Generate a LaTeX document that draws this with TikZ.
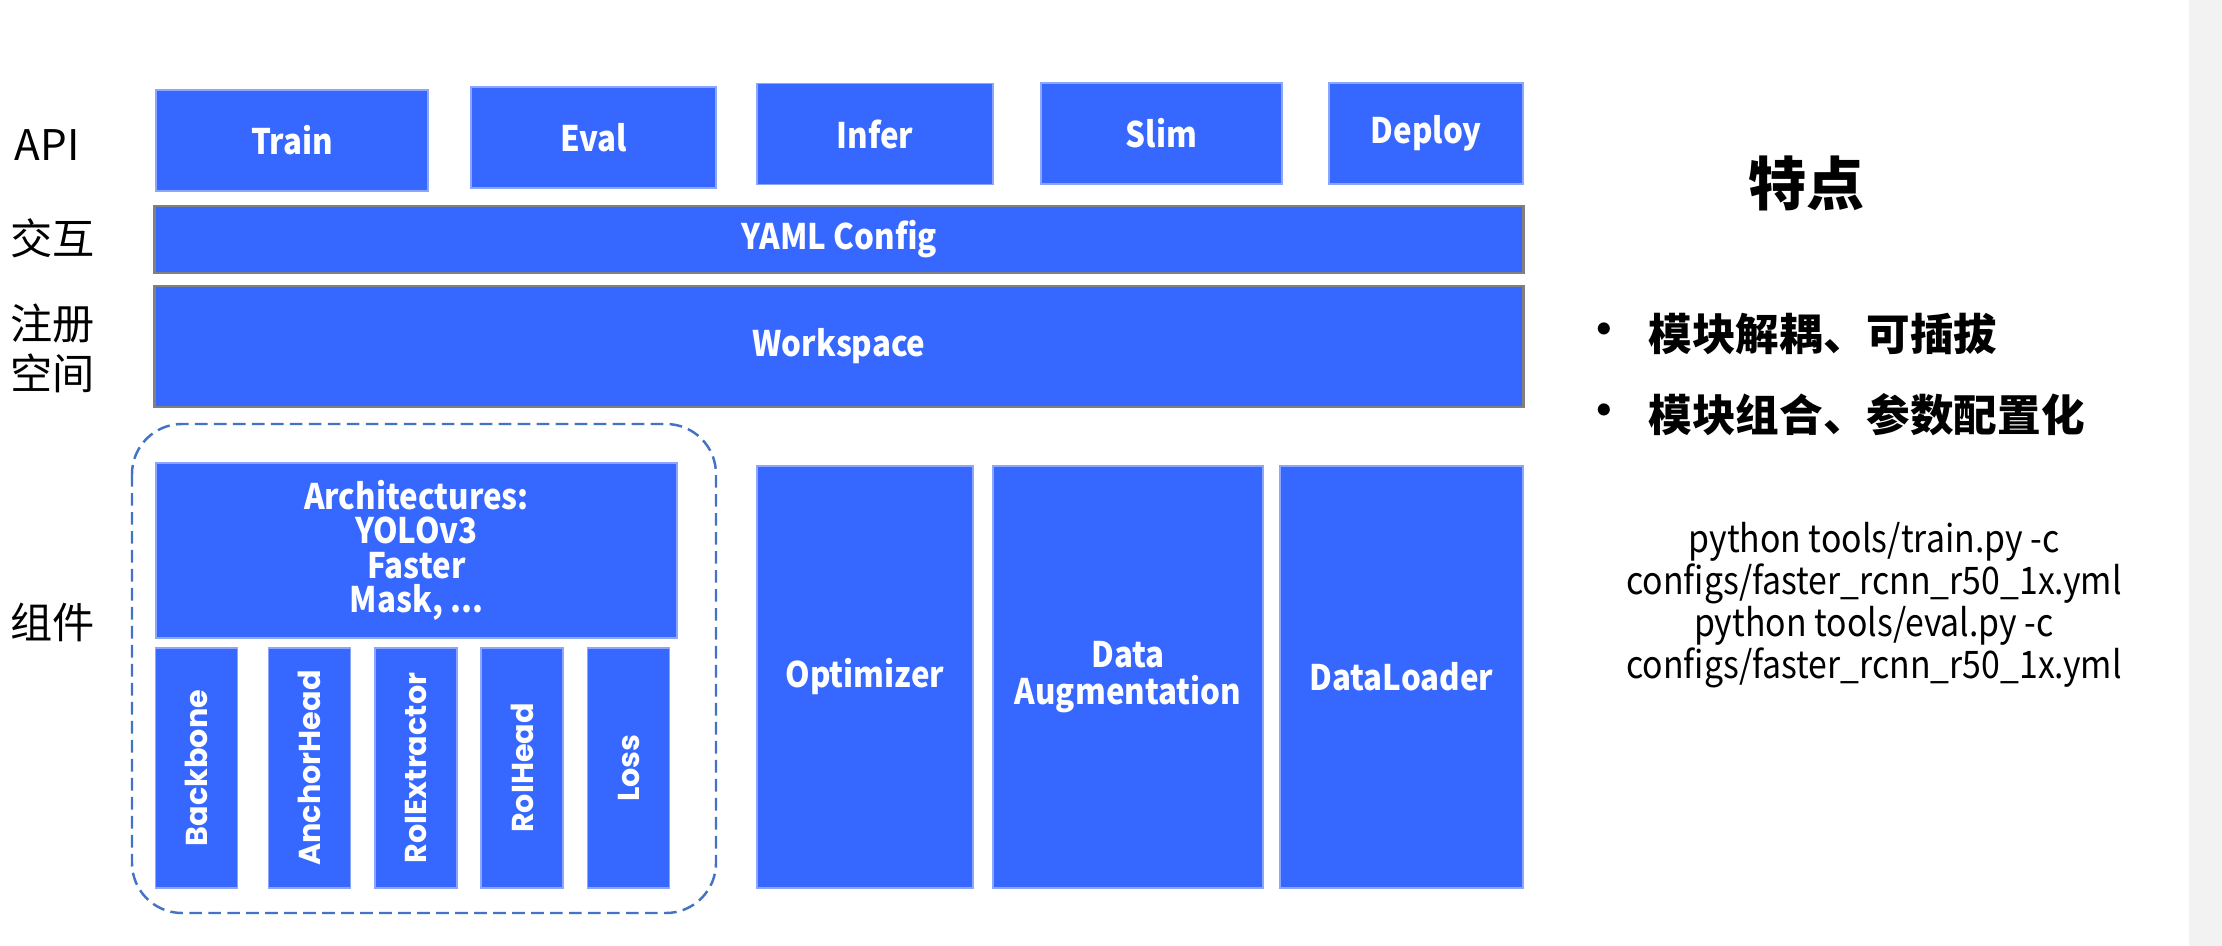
\documentclass[tikz,border=0pt]{standalone}
\usepackage{fontspec}
\setmainfont{Noto Sans CJK SC}
\newfontfamily\labelfont[FakeStretch=0.89]{Noto Sans CJK SC}
\newfontfamily\vertfont{Poppins}
\usetikzlibrary{positioning}
\definecolor{boxblue}{RGB}{54,103,255}
\definecolor{boxedge}{RGB}{140,165,255}
\definecolor{dashblue}{RGB}{68,114,196}
\definecolor{stripgray}{RGB}{242,242,242}

\begin{document}
\begin{tikzpicture}[
    x=0.01cm, y=-0.01cm,
    box/.style={rectangle, fill=boxblue, draw=boxedge, line width=0.4pt, inner sep=0pt, text=white, align=center, font=\labelfont\fontsize{10}{10.5}\selectfont\bfseries},
    apibox/.style={box, minimum height=1.01cm},
    layer/.style={box, draw=gray, line width=0.7pt, minimum width=13.68cm},
    part/.style={box, rotate=90, minimum width=2.4cm, minimum height=0.82cm, font=\vertfont\fontsize{8.6}{10}\selectfont\bfseries},
    module/.style={box, minimum height=4.22cm},
    side/.style={anchor=west, align=left, inner sep=0pt, font=\fontsize{12}{14.2}\selectfont},
    point/.style={anchor=west, inner sep=0pt, font=\fontsize{12.4}{14}\selectfont\bfseries}
]
    \fill[white] (0,0) rectangle (2222,946);
    \fill[stripgray] (2189,0) rectangle (2222,946);

    \node[side] (lapi) at (14,145) {API};
    \node[side] (lyaml) at (10,238) {交互};
    \node[side] (lws) at (10,348) {注册\\空间};
    \node[side] (lcomp) at (10,622) {组件};

    \node[apibox, minimum width=2.72cm] (train) at (292,140.5) {Train};
    \node[apibox, minimum width=2.45cm] (eval) at (593.5,137.5) {Eval};
    \node[apibox, minimum width=2.36cm] (infer) at (875,134) {Infer};
    \node[apibox, minimum width=2.41cm] (slim) at (1161.5,133.5) {Slim};
    \node[apibox, minimum width=1.94cm] (deploy) at (1426,133.5) {Deploy};

    \node[layer, minimum height=0.67cm] (yaml) at (839,239.5) {YAML Config};
    \node[layer, minimum height=1.21cm] (workspace) at (839,346.5) {Workspace};

    \draw[dashblue, line width=0.7pt, dash pattern=on 3.6pt off 1.8pt, rounded corners=0.5cm] (132,424) rectangle (716,913);
    \node[box, minimum width=5.21cm, minimum height=1.75cm, font=\labelfont\fontsize{10}{9.8}\selectfont\bfseries] (arch) at (416.5,550.5) {Architectures:\\YOLOv3\\Faster\\Mask, ...};
    \node[part] (backbone) at (196.5,768) {Backbone};
    \node[part] (anchorhead) at (309.5,768) {AnchorHead};
    \node[part] (roiextractor) at (416,768) {RoIExtractor};
    \node[part] (roihead) at (522,768) {RoIHead};
    \node[part] (loss) at (628.5,768) {Loss};

    \node[module, minimum width=2.16cm] (optimizer) at (865,677) {Optimizer};
    \node[module, minimum width=2.70cm] (dataaug) at (1128,677) {Data\\Augmentation};
    \node[module, minimum width=2.43cm] (dataloader) at (1401.5,677) {DataLoader};

    \node[font=\fontsize{16.5}{18}\selectfont\bfseries] (feature) at (1806,183) {特点};
    \node[point] (dot1) at (1582,334) {•};
    \node[point] (point1) at (1648,334) {模块解耦、可插拔};
    \node[point] (dot2) at (1582,415) {•};
    \node[point] (point2) at (1648,415) {模块组合、参数配置化};

    \node[align=center, font=\labelfont\fontsize{10.8}{11.9}\selectfont] (cmds) at (1874,605) {python tools/train.py -c\\configs/faster\_rcnn\_r50\_1x.yml\\python tools/eval.py -c\\configs/faster\_rcnn\_r50\_1x.yml};
\end{tikzpicture}
\end{document}
